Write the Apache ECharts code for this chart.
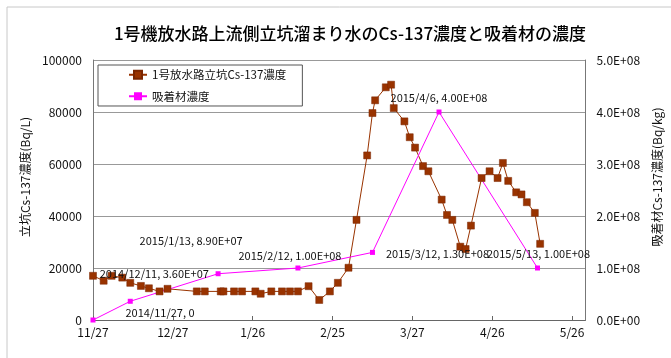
<!DOCTYPE html>
<html>
<head>
<meta charset="utf-8">
<script src="https://cdn.jsdelivr.net/npm/echarts@6/dist/echarts.min.js"></script>
<style>
  html, body { margin: 0; padding: 0; background: #fff; }
  #chart { width: 671px; height: 358px; }
</style>
</head>
<body>
<div id="chart"></div>
<script>
/* 立坑溜まり水 Cs-137 (Bq/L) */
var shaftDates = ['2014/11/27','2014/12/1','2014/12/4','2014/12/8','2014/12/11','2014/12/15','2014/12/18','2014/12/22','2014/12/25',
  '2015/1/5','2015/1/8','2015/1/14','2015/1/15','2015/1/19','2015/1/22','2015/1/27','2015/1/29',
  '2015/2/2','2015/2/6','2015/2/9','2015/2/12','2015/2/16','2015/2/20','2015/2/24','2015/2/27',
  '2015/3/3','2015/3/6','2015/3/10','2015/3/12','2015/3/13','2015/3/17','2015/3/19','2015/3/20','2015/3/24','2015/3/26','2015/3/28','2015/3/31',
  '2015/4/2','2015/4/7','2015/4/9','2015/4/11','2015/4/14','2015/4/16','2015/4/18','2015/4/22','2015/4/25','2015/4/28','2015/4/30',
  '2015/5/2','2015/5/5','2015/5/7','2015/5/9','2015/5/12','2015/5/14'];
var shaftValues = [17000,15100,17000,16300,14300,13100,12200,11000,12000,
  11000,11000,11000,11000,11000,11000,11000,10100,
  11000,11000,11000,11000,13000,7700,11000,14300,
  20100,38500,63300,79600,84500,89500,90500,81500,76400,70300,66300,59200,
  57200,46300,40400,38500,28200,27300,36300,54600,57200,54600,60400,
  53500,49100,48300,45300,41200,29300];

/* 吸着材 Cs-137 (Bq/kg) */
var sorbentDates = ['2014/11/27','2014/12/11','2015/1/13','2015/2/12','2015/3/12','2015/4/6','2015/5/13'];
var sorbentValues = [0, 3.6e7, 8.9e7, 1.0e8, 1.3e8, 4.0e8, 1.0e8];
// データラベルのずらし量
var sorbentLabelOffsets = [[67,1],[24,-19],[-27,-25],[-8,-4],[65,9],[0,-6],[1,-6]];

var startDate = '2014/11/27';
var xMaxDays = 185;

function toUTC(s) {
  var p = s.split('/');
  return Date.UTC(+p[0], +p[1] - 1, +p[2]);
}
var t0 = toUTC(startDate);
function dayOf(s) { return Math.round((toUTC(s) - t0) / 86400000); }

function sci(v, digits) {
  if (v === 0) return (0).toFixed(digits) + 'E+00';
  var e = Math.floor(Math.log10(v));
  var m = v / Math.pow(10, e);
  return m.toFixed(digits) + 'E+' + (e < 10 ? '0' + e : e);
}

var shaftData = shaftDates.map(function (d, i) { return [dayOf(d), shaftValues[i]]; });
var sorbentData = sorbentDates.map(function (d, i) {
  var v = sorbentValues[i];
  return {
    value: [dayOf(d), v],
    label: {
      show: true,
      position: 'top',
      distance: 0,
      offset: sorbentLabelOffsets[i],
      formatter: d + ', ' + (v === 0 ? '0' : sci(v, 2))
    }
  };
});

var jp = '"Noto Sans CJK JP", sans-serif';
var myChart = echarts.init(document.getElementById('chart'));
var option = {
  animation: false,
  backgroundColor: '#fff',
  title: {
    text: '1号機放水路上流側立坑溜まり水のCs-137濃度と吸着材の濃度',
    left: 345, textAlign: 'center', top: 20,
    textStyle: { fontFamily: jp, fontSize: 17, fontWeight: 500, color: '#000' }
  },
  graphic: [{
    type: 'rect', shape: { x: 7, y: 7, width: 700, height: 400 },
    style: { fill: 'none', stroke: '#c8c8c8', lineWidth: 1 }, silent: true
  }],
  legend: {
    orient: 'vertical', left: 98, top: 65,
    padding: [4, 16, 4, 30], itemGap: 10, itemWidth: 18, itemHeight: 10,
    borderColor: '#555', borderWidth: 1,
    textStyle: { fontFamily: jp, fontSize: 11.5, color: '#111' }
  },
  grid: { left: 93, right: 79, top: 60, bottom: 38 },
  xAxis: {
    type: 'value', min: 0, max: xMaxDays, interval: 30,
    axisLine: { lineStyle: { color: '#666' } },
    axisTick: { inside: true, length: 4, lineStyle: { color: '#666' } },
    splitLine: { show: false },
    axisLabel: {
      fontFamily: jp, fontSize: 12, color: '#111', margin: 6, showMaxLabel: false,
      formatter: function (v) {
        if (v % 30 !== 0) return '';
        var d = new Date(t0 + v * 86400000);
        return (d.getUTCMonth() + 1) + '/' + d.getUTCDate();
      }
    }
  },
  yAxis: [{
    type: 'value', min: 0, max: 100000, interval: 20000,
    name: '立坑Cs-137濃度(Bq/L)', nameLocation: 'middle', nameRotate: 90, nameGap: 50,
    nameTextStyle: { fontFamily: jp, fontSize: 12, color: '#111', padding: [0, 0, 0, 26] },
    axisLine: { show: true, lineStyle: { color: '#777' } },
    axisTick: { show: false },
    splitLine: { lineStyle: { color: '#999', width: 1 } },
    axisLabel: { fontFamily: jp, fontSize: 12, color: '#111', margin: 11,
      formatter: function (v) { return String(v); } }
  }, {
    type: 'value', min: 0, max: 5e8, interval: 1e8,
    name: '吸着材Cs-137濃度(Bq/kg)', nameLocation: 'middle', nameRotate: 90, nameGap: 60,
    nameTextStyle: { fontFamily: jp, fontSize: 12, color: '#111', padding: [0, 0, 0, 26] },
    axisLine: { show: true, lineStyle: { color: '#777' } },
    axisTick: { show: false },
    splitLine: { show: false },
    axisLabel: { fontFamily: jp, fontSize: 12, color: '#111', margin: 11,
      formatter: function (v) { return sci(v, 1); } }
  }],
  series: [{
    name: '1号放水路立坑Cs-137濃度',
    type: 'line', yAxisIndex: 0,
    data: shaftData,
    symbol: 'rect', symbolSize: 7,
    itemStyle: { color: '#993300', borderColor: '#7a2600', borderWidth: 0.5 },
    lineStyle: { color: '#993300', width: 1 }
  }, {
    name: '吸着材濃度',
    type: 'line', yAxisIndex: 1,
    data: sorbentData,
    symbol: 'rect', symbolSize: 5,
    itemStyle: { color: '#ff00ff' },
    lineStyle: { color: '#ff00ff', width: 1 },
    label: { fontFamily: jp, fontSize: 11, color: '#111' },
    z: 3
  }]
};
myChart.setOption(option);
</script>
</body>
</html>
